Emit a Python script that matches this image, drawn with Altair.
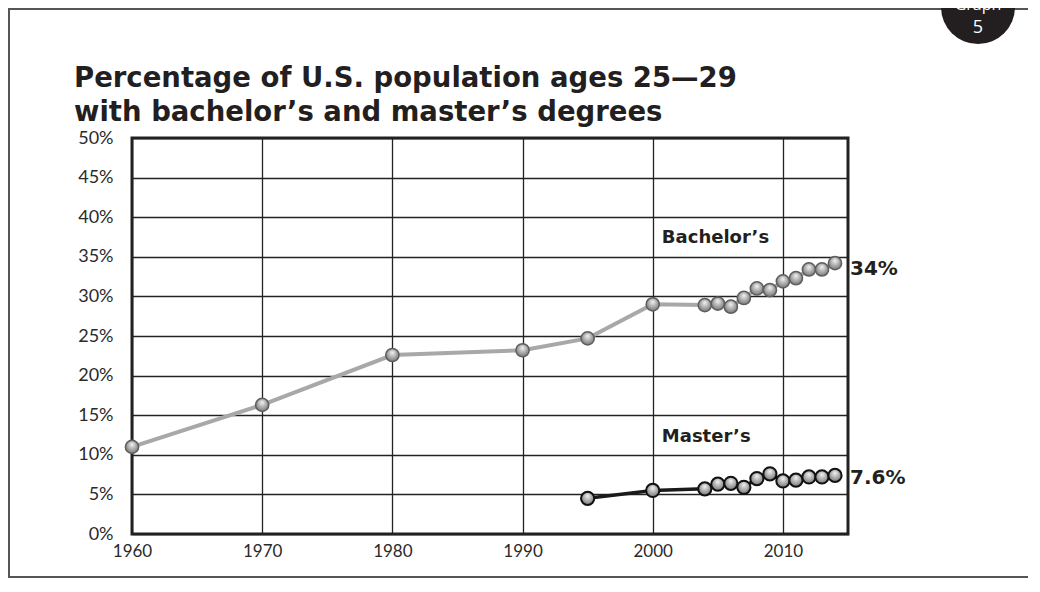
import altair as alt
import pandas as pd

# ---- data ----
bach_years = [1960, 1970, 1980, 1990, 1995, 2000, 2004, 2005, 2006, 2007, 2008, 2009, 2010, 2011, 2012, 2013, 2014]
bach_values = [11.0, 16.3, 22.6, 23.2, 24.7, 29.0, 28.9, 29.1, 28.7, 29.8, 31.0, 30.8, 31.9, 32.3, 33.4, 33.4, 34.2]

mast_years = [1995, 2000, 2004, 2005, 2006, 2007, 2008, 2009, 2010, 2011, 2012, 2013, 2014]
mast_values = [4.5, 5.5, 5.7, 6.3, 6.4, 5.9, 7.0, 7.6, 6.7, 6.8, 7.2, 7.2, 7.4]

x_ticks = [1960, 1970, 1980, 1990, 2000, 2010]
y_ticks = [0, 5, 10, 15, 20, 25, 30, 35, 40, 45, 50]

series_names = ["Bachelor\u2019s", "Master\u2019s"]
end_labels = ["34%", "7.6%"]
name_label_years = [2000.7, 2000.7]
name_label_values = [37.4, 12.2]
end_label_values = [33.4, 7.1]

title_lines = ["Percentage of U.S. population ages 25\u201429",
               "with bachelor\u2019s and master\u2019s degrees"]

bach = pd.DataFrame({"year": bach_years, "value": bach_values})
mast = pd.DataFrame({"year": mast_years, "value": mast_values})

X = alt.X("year:Q", scale=alt.Scale(domain=[1960, 2015], nice=False, zero=False),
          axis=alt.Axis(values=x_ticks, format="d", title=None, grid=True, ticks=False,
                        domain=False, labelPadding=9, labelFontSize=17, labelFlush=False,
                        labelFont="Lato", labelColor="#2a2a2a",
                        gridColor="#222222", gridWidth=1.3))
Y = alt.Y("value:Q", scale=alt.Scale(domain=[0, 50], nice=False),
          axis=alt.Axis(values=y_ticks, labelExpr="datum.value + '%'", title=None,
                        grid=True, ticks=False, domain=False, labelPadding=19,
                        labelFlush=False, labelFontSize=18, labelFont="Lato",
                        labelColor="#2a2a2a",
                        gridColor="#222222", gridWidth=1.3))

grad = alt.RadialGradient(
    gradient="radial",
    stops=[alt.GradientStop(color="#f4f4f4", offset=0),
           alt.GradientStop(color="#a9a9a9", offset=0.55),
           alt.GradientStop(color="#6e6e6e", offset=1)],
    x1=0.5, y1=0.3, r1=0.0, x2=0.5, y2=0.45, r2=0.6,
)

one = pd.DataFrame({"a": [0]})

frame = alt.Chart(one).mark_rect(fill="transparent", stroke="#555555", strokeWidth=2).encode(
    x=alt.value(-123), x2=alt.value(1100), y=alt.value(-129), y2=alt.value(439))

badge = alt.Chart(one).mark_circle(size=5476, color="#231f20", opacity=1).encode(
    x=alt.value(846), y=alt.value(-131))
badge_g = alt.Chart(pd.DataFrame({"t": ["Graph"]})).mark_text(
    color="white", font="Open Sans", fontSize=16, align="center", baseline="alphabetic").encode(
    text="t:N", x=alt.value(846), y=alt.value(-128))
badge_n = alt.Chart(pd.DataFrame({"t": ["5"]})).mark_text(
    color="white", font="Open Sans", fontSize=18, align="center", baseline="middle").encode(
    text="t:N", x=alt.value(846), y=alt.value(-110))

title1 = alt.Chart(pd.DataFrame({"t": [title_lines[0]]})).mark_text(
    font="DejaVu Sans", fontSize=27.5, fontWeight="bold", color="#231f20", align="left",
    baseline="alphabetic").encode(text="t:N", x=alt.value(-58), y=alt.value(-51))
title2 = alt.Chart(pd.DataFrame({"t": [title_lines[1]]})).mark_text(
    font="DejaVu Sans", fontSize=27.5, fontWeight="bold", color="#231f20", align="left",
    baseline="alphabetic").encode(text="t:N", x=alt.value(-58), y=alt.value(-17))

bach_line = alt.Chart(bach).mark_line(color="#a8a8a8", strokeWidth=4).encode(x=X, y=Y)
bach_pts = alt.Chart(bach).mark_circle(size=175, fill=grad, fillOpacity=1, opacity=1,
                                       stroke="#5e5e5e", strokeWidth=1.5).encode(x=X, y=Y)
mast_line = alt.Chart(mast).mark_line(color="#1a1a1a", strokeWidth=3.5).encode(x=X, y=Y)
mast_pts = alt.Chart(mast).mark_circle(size=175, fill=grad, fillOpacity=1, opacity=1,
                                       stroke="#111111", strokeWidth=2).encode(x=X, y=Y)

names = pd.DataFrame({"year": name_label_years, "value": name_label_values, "t": series_names})
name_text = alt.Chart(names).mark_text(font="DejaVu Sans", fontSize=18, fontWeight="bold",
                                       color="#231f20", align="left", baseline="middle").encode(
    x=X, y=Y, text="t:N")

ends = pd.DataFrame({"year": [2014, 2014], "value": end_label_values, "t": end_labels})
end_text = alt.Chart(ends).mark_text(font="DejaVu Sans", fontSize=20, fontWeight="bold",
                                     color="#231f20", align="left", baseline="middle", dx=15).encode(
    x=X, y=Y, text="t:N")

chart = alt.layer(
    frame, badge, badge_g, badge_n, title1, title2,
    bach_line, mast_line, bach_pts, mast_pts, name_text, end_text,
).properties(
    width=716, height=396,
    autosize=alt.AutoSizeParams(type="none"),
    padding={"left": 124, "top": 130, "right": 180, "bottom": 44},
    background="white",
).configure_view(stroke="#222222", strokeWidth=3)

chart.save("out.html", embed_options={"renderer": "svg", "actions": False})
